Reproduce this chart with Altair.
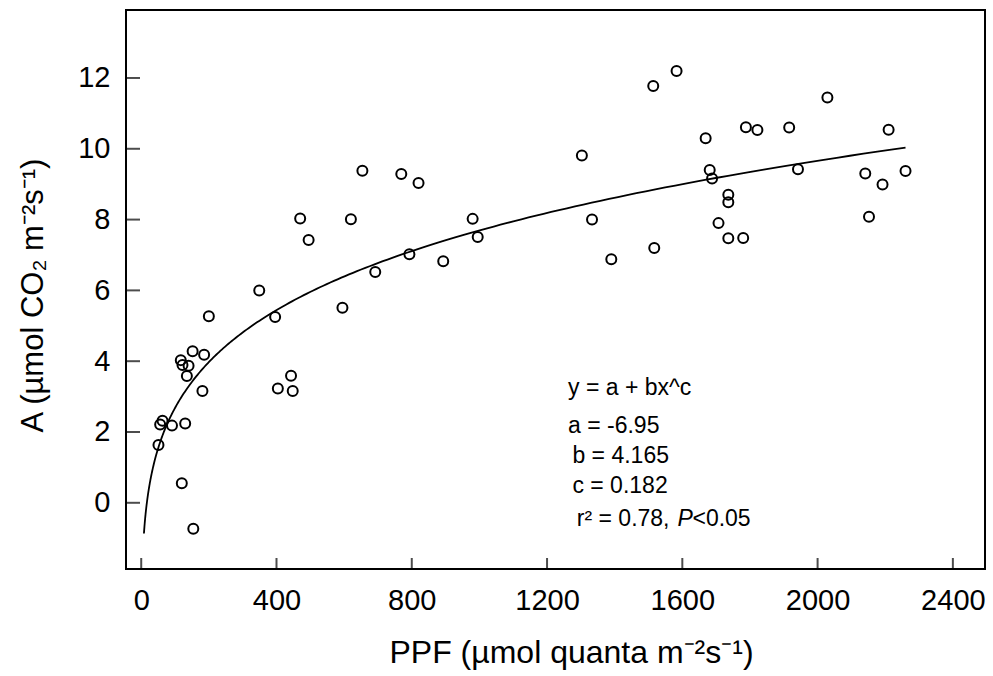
import altair as alt
import numpy as np
import pandas as pd

# Observed data (PPF, A)
ppf = [51, 56, 63, 91, 130, 120, 154, 117, 122, 140, 135, 152, 186, 181, 200,
       349, 396, 404, 443, 448, 470, 495, 595, 620, 654, 692, 769, 793, 820, 893,
       980, 995, 1303, 1333, 1390, 1514, 1517, 1583, 1669, 1681, 1688, 1707,
       1736, 1736, 1736, 1780, 1788, 1822, 1916, 1942, 2029, 2141, 2152, 2192,
       2210, 2260]
assim = [1.63, 2.21, 2.32, 2.18, 2.24, 0.55, -0.73, 4.03, 3.89, 3.87, 3.58, 4.28,
         4.18, 3.16, 5.27, 6.0, 5.25, 3.23, 3.59, 3.16, 8.03, 7.42, 5.51, 8.01,
         9.38, 6.52, 9.29, 7.02, 9.03, 6.82, 8.02, 7.51, 9.81, 8.0, 6.88, 11.77,
         7.20, 12.2, 10.30, 9.40, 9.16, 7.90, 8.70, 8.49, 7.47, 7.48, 10.61,
         10.53, 10.6, 9.42, 11.45, 9.30, 8.08, 8.99, 10.54, 9.37]

# Fitted model printed on the chart: y = a + b x^c
fit_a, fit_b, fit_c = -6.95, 4.165, 0.182
fit_x_start, fit_x_end = 8, 2260

x_ticks = [0, 400, 800, 1200, 1600, 2000, 2400]
y_ticks = [0, 2, 4, 6, 8, 10, 12]
x_domain = [-45, 2495]
y_domain = [-1.87, 13.92]

ann_text = ["y = a + bx^c", "a = -6.95", "b = 4.165", "c = 0.182", "r\u00b2 = 0.78,", "<0.05"]
ann_x = [1262, 1262, 1275, 1275, 1288, 1630]
ann_y = [3.04, 1.97, 1.12, 0.27, -0.66, -0.66]
ital_text = ["P"]
ital_x = [1586]
ital_y = [-0.66]

W, H = 859, 559
FONT = "Liberation Sans, Arial, Helvetica, sans-serif"

pts = pd.DataFrame({"x": ppf, "y": assim})
fx = np.geomspace(fit_x_start, fit_x_end, 300)
fit = pd.DataFrame({"x": fx, "y": fit_a + fit_b * fx ** fit_c})
ann = pd.DataFrame({"t": ann_text, "x": ann_x, "y": ann_y})
ital = pd.DataFrame({"t": ital_text, "x": ital_x, "y": ital_y})

xs = alt.Scale(domain=x_domain, nice=False, zero=False)
ys = alt.Scale(domain=y_domain, nice=False, zero=False)

xaxis = alt.Axis(values=x_ticks, format="d", ticks=False, domain=False, grid=False,
                 labelFontSize=29, labelPadding=17, labelFont=FONT, labelColor="black",
                 title="PPF (\u00b5mol quanta m\u207b\u00b2s\u207b\u00b9)",
                 titleFont=FONT, titleFontSize=32, titleFontWeight="normal",
                 titleColor="black", titleX=445, titleY=93,
                 titleBaseline="alphabetic", titleAlign="center")
yaxis = alt.Axis(values=y_ticks, format="d", ticks=False, domain=False, grid=False,
                 labelFontSize=29, labelPadding=16, labelFont=FONT, labelColor="black",
                 title="A (\u00b5mol CO\u2082 m\u207b\u00b2s\u207b\u00b9)",
                 titleFont=FONT, titleFontSize=31, titleFontWeight="normal",
                 titleColor="black", titleX=-84, titleY=285, titleAngle=270,
                 titleBaseline="alphabetic", titleAlign="center")

points = alt.Chart(pts).mark_point(shape="circle", filled=False, color="black",
                                   strokeWidth=2, size=100, opacity=1).encode(
    x=alt.X("x:Q", scale=xs, axis=xaxis),
    y=alt.Y("y:Q", scale=ys, axis=yaxis),
)

curve = alt.Chart(fit).mark_line(color="black", strokeWidth=1.8).encode(
    x=alt.X("x:Q", scale=xs), y=alt.Y("y:Q", scale=ys))

xt = alt.Chart(pd.DataFrame({"v": x_ticks})).mark_tick(
    orient="vertical", color="black", thickness=2, size=11).encode(
    x=alt.X("v:Q", scale=xs), y=alt.value(H - 5.5))
yt = alt.Chart(pd.DataFrame({"v": y_ticks})).mark_tick(
    orient="horizontal", color="black", thickness=2, size=14).encode(
    y=alt.Y("v:Q", scale=ys), x=alt.value(7))

texts = alt.Chart(ann).mark_text(align="left", baseline="alphabetic", fontSize=23,
                                 font=FONT, color="black").encode(
    x=alt.X("x:Q", scale=xs), y=alt.Y("y:Q", scale=ys), text="t:N")
itexts = alt.Chart(ital).mark_text(align="left", baseline="alphabetic", fontSize=23,
                                   font=FONT, fontStyle="italic", color="black").encode(
    x=alt.X("x:Q", scale=xs), y=alt.Y("y:Q", scale=ys), text="t:N")

chart = alt.layer(points, curve, xt, yt, texts, itexts).properties(
    width=W, height=H, autosize="none", background="white",
    padding={"left": 126, "top": 10, "right": 8, "bottom": 107},
).configure_view(stroke="black", strokeWidth=2)

chart.save("out.html", embed_options={"renderer": "svg", "actions": False})
